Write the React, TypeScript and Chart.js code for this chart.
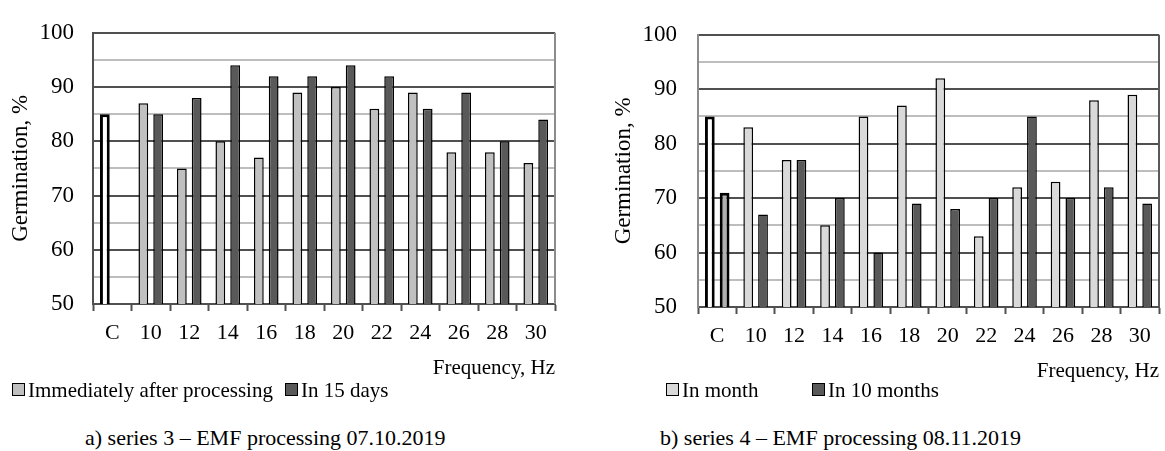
import React, { useEffect, useRef } from 'react';
import { Chart, registerables } from 'chart.js';

Chart.register(...registerables);

const categories = ['C', '10', '12', '14', '16', '18', '20', '22', '24', '26', '28', '30'];

// Chart a) series 3
const seriesALabel1 = 'Immediately after processing';
const seriesALabel2 = 'In 15 days';
const seriesA1 = [85, 87, 75, 80, 77, 89, 90, 86, 89, 78, 78, 76];
const seriesA2 = [null, 85, 88, 94, 92, 92, 94, 92, 86, 89, 80, 84];

// Chart b) series 4
const seriesBLabel1 = 'In month';
const seriesBLabel2 = 'In 10 months';
const seriesB1 = [85, 83, 77, 65, 85, 87, 92, 63, 72, 73, 88, 89];
const seriesB2 = [71, 67, 77, 70, 60, 69, 68, 70, 85, 70, 72, 69];

const captionA = 'a) series 3 – EMF processing 07.10.2019';
const captionB = 'b) series 4 – EMF processing 08.11.2019';
const yTitle = 'Germination, %';
const xTitle = 'Frequency, Hz';

const FONT = "'Liberation Serif', 'Times New Roman', serif";
const MAJOR = '#505050';
const MINOR = '#bdbdbd';
const DARK = '#595959';

type ChartProps = {
  d1: (number | null)[];
  d2: (number | null)[];
  l1: string;
  l2: string;
  light: string;
  c1: string;
  c2: string;
  left: number;
  width: number;
  height: number;
  padTop: number;
  padRight: number;
  yTitlePad: number;
  yTickPad: number;
  yBorder: string;
  rightBorder: string;
};

const framePlugin = {
  id: 'frameRight',
  beforeDatasetsDraw(chart: any, _args: any, opts: any) {
    const { ctx, chartArea } = chart;
    ctx.save();
    ctx.strokeStyle = opts.color || '#808080';
    ctx.lineWidth = 2;
    ctx.beginPath();
    ctx.moveTo(chartArea.right, chartArea.top);
    ctx.lineTo(chartArea.right, chartArea.bottom);
    ctx.stroke();
    ctx.restore();
  },
};

function BarChart(p: ChartProps) {
  const ref = useRef<HTMLCanvasElement | null>(null);
  useEffect(() => {
    if (!ref.current) return;
    const xfont = { family: FONT, size: 22 };
    const yfont = { family: FONT, size: 23 };
    const tfont = { family: FONT, size: 21 };
    const chart = new Chart(ref.current, {
      type: 'bar',
      data: {
        labels: categories,
        datasets: [
          {
            label: p.l1,
            data: p.d1,
            backgroundColor: (c: any) => (c.dataIndex === 0 ? p.c1 : p.light),
            borderColor: '#000',
            borderWidth: (c: any) => (c.dataIndex === 0 ? 3 : 1.5),
            borderSkipped: false,
            categoryPercentage: 0.77,
            barPercentage: 0.66,
          },
          {
            label: p.l2,
            data: p.d2,
            backgroundColor: (c: any) => (c.dataIndex === 0 ? p.c2 : DARK),
            borderColor: '#000',
            borderWidth: (c: any) => (c.dataIndex === 0 ? 3 : 1.5),
            borderSkipped: false,
            categoryPercentage: 0.77,
            barPercentage: 0.66,
          },
        ],
      },
      options: {
        responsive: false,
        animation: false,
        layout: { padding: { left: 0, right: p.padRight, top: p.padTop, bottom: 0 } },
        plugins: {
          legend: { display: false },
          tooltip: { enabled: false },
          frameRight: { color: p.rightBorder },
        } as any,
        scales: {
          x: {
            offset: true,
            grid: {
              offset: true,
              drawOnChartArea: false,
              drawTicks: true,
              tickLength: 7,
              tickColor: MAJOR,
              tickWidth: 2,
            },
            border: { display: true, color: MAJOR, width: 2 },
            ticks: { font: xfont, color: '#000', padding: 9, maxRotation: 0, autoSkip: false },
            title: {
              display: true,
              text: xTitle,
              align: 'end',
              font: tfont,
              color: '#000',
              padding: { top: 0, bottom: 3 },
            },
            afterFit: (s: any) => {
              s.height = 80;
            },
          },
          y: {
            min: 50,
            max: 100,
            ticks: {
              stepSize: 5,
              autoSkip: false,
              font: yfont,
              color: '#000',
              padding: p.yTickPad,
              callback: (v: any) => (Number(v) % 10 === 0 ? String(v) : ''),
            },
            grid: {
              drawTicks: false,
              lineWidth: 2,
              color: (c: any) => (c.tick && c.tick.value % 10 === 0 ? MAJOR : MINOR),
            },
            border: { display: true, color: p.yBorder, width: 2 },
            title: {
              display: true,
              text: yTitle,
              font: { family: FONT, size: 23 },
              color: '#000',
              padding: { top: p.yTitlePad, bottom: 0 },
            },
            afterFit: (s: any) => {
              s.width = 93;
            },
          },
        },
      } as any,
      plugins: [framePlugin],
    });
    return () => chart.destroy();
  }, []);
  return (
    <canvas
      ref={ref}
      width={p.width}
      height={p.height}
      style={{ position: 'absolute', left: p.left, top: 0, width: p.width, height: p.height }}
    />
  );
}

const textStyle: React.CSSProperties = {
  position: 'absolute',
  fontFamily: FONT,
  fontSize: 21,
  lineHeight: '24px',
  whiteSpace: 'nowrap',
  color: '#000',
};

function LegendItem({ x, y, color, label }: { x: number; y: number; color: string; label: string }) {
  return (
    <>
      <div
        style={{
          position: 'absolute',
          left: x,
          top: y + 5,
          width: 11,
          height: 11,
          background: color,
          border: '1px solid #000',
        }}
      />
      <div style={{ ...textStyle, left: x + 16, top: y }}>{label}</div>
    </>
  );
}

export default function App() {
  return (
    <div
      style={{
        position: 'fixed',
        left: 0,
        top: 0,
        width: 1165,
        height: 451,
        background: '#fff',
        overflow: 'hidden',
      }}
    >
      <BarChart
        d1={seriesA1}
        d2={seriesA2}
        l1={seriesALabel1}
        l2={seriesALabel2}
        light="#c0c0c0"
        c1="#ffffff"
        c2="#ffffff"
        left={0}
        width={580}
        height={384}
        padTop={24}
        padRight={25}
        yTitlePad={7}
        yTickPad={19}
        yBorder={MAJOR}
        rightBorder="#8c8c8c"
      />
      <BarChart
        d1={seriesB1}
        d2={seriesB2}
        l1={seriesBLabel1}
        l2={seriesBLabel2}
        light="#d9d9d9"
        c1="#ffffff"
        c2="#b0b0b0"
        left={605}
        width={560}
        height={387}
        padTop={28}
        padRight={6}
        yTitlePad={5}
        yTickPad={21}
        yBorder="#8c8c8c"
        rightBorder={DARK}
      />
      <LegendItem x={12} y={378} color="#c0c0c0" label={seriesALabel1} />
      <LegendItem x={285} y={378} color={DARK} label={seriesALabel2} />
      <LegendItem x={666} y={378} color="#d9d9d9" label={seriesBLabel1} />
      <LegendItem x={812} y={378} color={DARK} label={seriesBLabel2} />
      <div style={{ ...textStyle, fontSize: 22, left: 85, top: 426 }}>{captionA}</div>
      <div style={{ ...textStyle, fontSize: 22, left: 660, top: 426 }}>{captionB}</div>
    </div>
  );
}
